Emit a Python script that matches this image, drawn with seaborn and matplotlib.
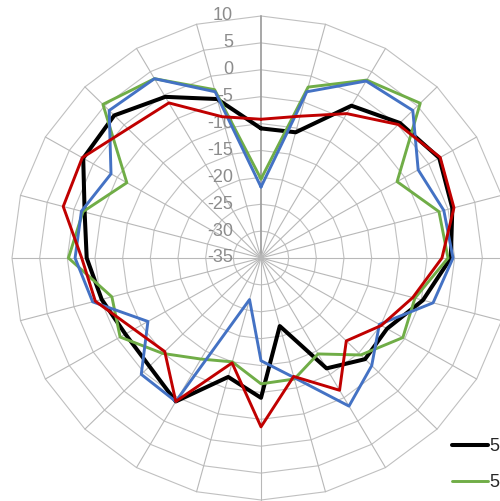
import numpy as np
import pandas as pd
import matplotlib
matplotlib.use("Agg")
import matplotlib.pyplot as plt
import matplotlib.transforms as mtransforms
import seaborn as sns

# 24 spokes, 15 degrees apart, clockwise from the top
n_spokes = 24
r_ticks = [10, 5, 0, -5, -10, -15, -20, -25, -30, -35]

series_names = ["5.2 GHz", "5.5 GHz", "5.8 GHz", "5.9 GHz"]
black = [-10.9, -10.8, -2.3, 0.5, 2.2, 0.8, -0.7, -4.7, -8.7, -8.4, -11.3, -21.9,
         -9.0, -12.1, -4.2, -6.5, -6.7, -5.2, -3.5, -2.0, 2.1, 2.5, -0.4, -4.4]
green = [-20.3, -2.1, 3.2, 5.7, -6.6, -1.7, -1.2, -6.2, -5.4, -9.5, -14.4, -11.7,
         -11.6, -15.0, -13.3, -9.9, -5.6, -7.1, -0.2, -1.7, -7.0, 5.4, 3.5, -2.6]
blue = [-21.8, -3.0, 3.0, 3.8, -2.2, -0.8, -0.3, -2.8, -10.3, -6.7, -3.2, -12.0,
        -15.9, -27.0, -4.2, -4.4, -11.4, -3.5, -1.4, -1.4, -3.7, 3.8, 3.5, -3.0]
red = [-9.2, -7.7, -4.0, 0.1, 2.4, 1.1, -2.3, -6.6, -9.9, -13.2, -6.6, -12.2,
       -3.6, -14.8, -4.2, -10.4, -8.5, -4.0, -2.6, 2.0, 2.3, -1.0, -1.7, -7.8]

colors = ["#000000", "#70ad47", "#4472c4", "#c00000"]
widths = [2.9, 2.1, 2.1, 2.1]

sns.set_theme(style="white")
plt.rcParams["font.family"] = ["Liberation Sans", "DejaVu Sans"]

fig = plt.figure(figsize=(5.0, 5.01), dpi=100)
ax = fig.add_axes([12 / 500, 1 / 501, 498 / 500, 484 / 501], projection="polar")
ax.set_aspect("auto")
ax.set_theta_zero_location("N")
ax.set_theta_direction(-1)
ax.set_ylim(-35, 10)
ax.grid(False)
ax.set_xticks([])
ax.set_yticks([])
ax.spines["polar"].set_visible(False)
ax.patch.set_alpha(0)

theta = np.linspace(0, 2 * np.pi, n_spokes + 1)

# polygon grid like a spreadsheet radar chart
for v in r_ticks[:-1]:
    ax.plot(theta, [v] * len(theta), color="#c0c0c0", lw=0.8, zorder=1, clip_on=False)
for i, t in enumerate(theta[:-1]):
    col, lw = ("#a0a0a0", 1.3) if i == 0 else ("#b8b8b8", 0.8)
    ax.plot([t, t], [-35, 10], color=col, lw=lw, zorder=1, clip_on=False)

rows = []
for name, vals in zip(series_names, [black, green, blue, red]):
    closed = list(vals) + [vals[0]]
    for t, v in zip(theta, closed):
        rows.append({"series": name, "theta": t, "value": v})
df = pd.DataFrame(rows)

for name, col, lw in zip(series_names, colors, widths):
    sub = df[df["series"] == name]
    sns.lineplot(data=sub, x="theta", y="value", color=col, lw=lw, sort=False,
                 estimator=None, ax=ax, label=name, zorder=3)
ax.set_xlabel("")
ax.set_ylabel("")

# value labels along the vertical axis
lab_tr = mtransforms.offset_copy(ax.transData, fig=fig, x=-28, y=0, units="dots")
for v in r_ticks:
    ax.text(0, v, str(v), transform=lab_tr, ha="right", va="center",
            fontsize=13, color="#8c8c8c", zorder=2)

handles, labels = ax.get_legend_handles_labels()
ax.legend(handles, labels, loc="upper left", bbox_to_anchor=(452 / 500, 1 - 438 / 501),
          bbox_transform=fig.transFigure, frameon=False, fontsize=13,
          handlelength=2.0, handletextpad=0.1, labelspacing=1.05, borderpad=0,
          borderaxespad=0)

fig.savefig("out.png", dpi=100)
